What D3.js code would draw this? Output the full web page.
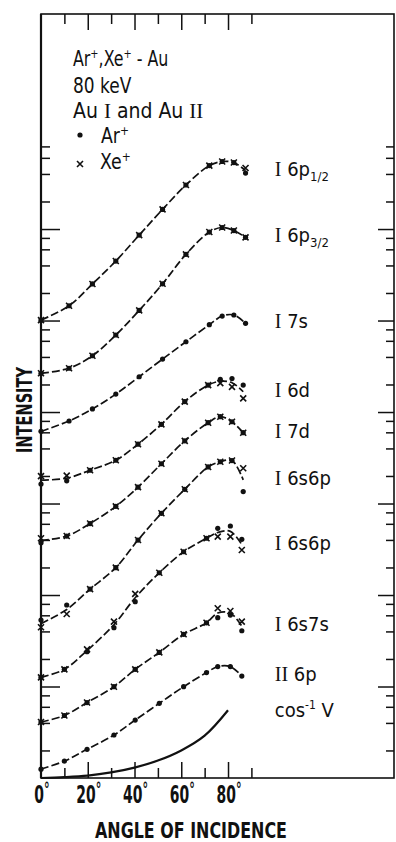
<!DOCTYPE html>
<html>
<head>
<meta charset="utf-8">
<script src="https://cdnjs.cloudflare.com/ajax/libs/d3/7.8.5/d3.min.js"></script>
<style>
    body { margin: 0; background: #fff; }
    text { fill: #111; }
    .narrow { font-family: 'Liberation Sans Narrow', 'DejaVu Sans Condensed', sans-serif; }
    .roman { font-family: 'Liberation Serif', 'DejaVu Serif', serif; }
    .heavy { font-family: 'DejaVu Sans Condensed', 'DejaVu Sans', sans-serif; font-weight: bold; }
</style>
</head>
<body>
<div id="chart"></div>
<script>

// angles of incidence (deg)
const anglesTop = [0, 12, 22, 32, 42, 52, 62, 72, 77.5, 82.5, 87.5];
const anglesMid = [0, 11, 21, 32, 41.5, 51.5, 61.5, 71.5, 76.7, 81.7, 86.5];
const anglesLow = [0, 10, 19.7, 31.2, 40.3, 50.6, 61, 70.8, 75.6, 81, 85.9];

// intensities (arb. units, curves shifted on the log axis)
const ar6p12 = [1.01e5, 1.45e5, 2.51e5, 4.47e5, 8.59e5, 1.64e6, 3.03e6, 4.94e6, 5.47e6, 5.33e6, 4.09e6];
const xe6p12 = [1.01e5, 1.45e5, 2.51e5, 4.47e5, 8.59e5, 1.64e6, 3.03e6, 4.94e6, 5.47e6, 5.33e6, 4.64e6];
const ar6p32 = [2.65e4, 3.01e4, 4.12e4, 6.95e4, 1.29e5, 2.52e5, 5.29e5, 9.27e5, 1.04e6, 9.63e5, 8.11e5];
const xe6p32 = [2.65e4, 3.01e4, 4.12e4, 6.95e4, 1.29e5, 2.52e5, 5.29e5, 9.27e5, 1.04e6, 9.63e5, 8.11e5];
const ar7s = [6.15e3, 7.98e3, 1.08e4, 1.57e4, 2.43e4, 3.79e4, 5.86e4, 9.0e4, 1.12e5, 1.15e5, 9.31e4];
const xe7s = [];
const ar6d = [1.63e3, 1.77e3, 2.31e3, 2.97e3, 4.45e3, 7.34e3, 1.30e4, 1.97e4, 2.27e4, 2.32e4, 1.97e4];
const xe6d = [1.99e3, 2.02e3, 2.31e3, 2.97e3, 4.45e3, 7.34e3, 1.30e4, 1.97e4, 2.07e4, 1.88e4, 1.41e4];
const ar7d = [373, 441, 604, 932, 1510, 2720, 4840, 7640, 8890, 7830, 5940];
const xe7d = [417, 441, 604, 932, 1510, 2720, 4840, 7640, 8890, 7830, 5940];
const ar6s6pA = [53.3, 77.8, 116, 199, 399, 782, 1430, 2510, 2860, 2950, 1350];
const xe6s6pA = [44.4, 62.0, 116, 199, 399, 782, 1430, 2510, 2860, 2950, 2430];
const ar6s6pB = [12.6, 15.4, 24.0, 43.9, 84.5, 175, 297, 417, 536, 568, 406];
const xe6s6pB = [12.6, 15.4, 25.5, 51.1, 103, 175, 297, 417, 434, 434, 310];
const ar6s7s = [4.09, 4.82, 6.68, 9.95, 15.4, 23.6, 37.2, 49.7, 56.5, 60.4, 40.7];
const xe6s7s = [4.09, 4.82, 6.68, 9.95, 15.4, 23.6, 37.2, 49.7, 71.6, 66.8, 51.1];
const arII6p = [1.25, 1.53, 2.06, 2.95, 4.30, 6.55, 9.95, 14.2, 16.5, 16.5, 13.0];
const xeII6p = [];

// cos^-1 reference curve
const cosAngles = [0, 10, 20, 30, 40, 50, 60, 70, 80];
const cosValues = [1, 1.02, 1.06, 1.15, 1.3, 1.55, 2.0, 2.9, 5.5];

// curve labels
const romans = ["I", "I", "I", "I", "I", "I", "I", "I", "II"];
const terms = ["6p", "6p", "7s", "6d", "7d", "6s6p", "6s6p", "6s7s", "6p"];
const subs = ["1/2", "3/2", "", "", "", "", "", "", ""];

// axis ticks
const xTicksMajor = [20, 40, 60, 80];
const xTicksMinor = [10, 30, 50, 70, 90];
const xTickLabels = [0, 20, 40, 60, 80];
const yTicksMajor = [10, 100, 1e3, 1e4, 1e5, 1e6];
const yTicksMinor = [2, 4, 6, 8, 20, 40, 60, 80, 200, 400, 600, 800, 2e3, 4e3, 6e3, 8e3,
    2e4, 4e4, 6e4, 8e4, 2e5, 4e5, 6e5, 8e5, 2e6, 4e6, 6e6, 8e6];


class IntensityVis {

    constructor(parentElement) {
        this.parentElement = parentElement;
        this.displayData = [];
        this.initVis();
    }

    initVis() {
        let vis = this;

        vis.margin = {top: 14, right: 2, bottom: 64, left: 41};
        vis.width = 396 - vis.margin.left - vis.margin.right;
        vis.height = 842 - vis.margin.top - vis.margin.bottom;

        vis.svg = d3.select("#" + vis.parentElement).append("svg")
            .attr("width", 396)
            .attr("height", 842);

        vis.g = vis.svg.append("g")
            .attr("transform", `translate(${vis.margin.left}, ${vis.margin.top})`);

        // frame spans 0..151 deg, log axis 1..2.24e8
        vis.x = d3.scaleLinear().domain([0, 151]).range([0, vis.width]);
        vis.y = d3.scaleLog().domain([1, 2.24e8]).range([vis.height, 0]);

        // ticks, all pointing inwards
        const tickAxis = (axis, tx, ty, values, size) => {
            let a = vis.g.append("g")
                .attr("transform", `translate(${tx}, ${ty})`)
                .call(axis.tickValues(values).tickSize(size).tickFormat(""));
            a.select(".domain").remove();
            a.selectAll("line").style("stroke", "#111").style("stroke-width", 1.5);
        };
        tickAxis(d3.axisLeft(vis.y), 0, 0, yTicksMajor, -19);
        tickAxis(d3.axisLeft(vis.y), 0, 0, yTicksMinor, -9);
        tickAxis(d3.axisRight(vis.y), vis.width, 0, yTicksMajor, -16);
        tickAxis(d3.axisRight(vis.y), vis.width, 0, yTicksMinor, -8);
        tickAxis(d3.axisBottom(vis.x), 0, vis.height, xTicksMajor, -16);
        tickAxis(d3.axisBottom(vis.x), 0, vis.height, xTicksMinor, -10);
        tickAxis(d3.axisTop(vis.x), 0, 0, xTicksMajor, -16);
        tickAxis(d3.axisTop(vis.x), 0, 0, xTicksMinor, -10);

        // frame
        vis.g.append("rect")
            .attr("width", vis.width)
            .attr("height", vis.height)
            .attr("fill", "none")
            .attr("stroke", "#111")
            .attr("stroke-width", 1.6);
        vis.g.append("line")
            .attr("x1", 0).attr("x2", 0)
            .attr("y1", 0).attr("y2", vis.height)
            .attr("stroke", "#111")
            .attr("stroke-width", 2.2);

        // x tick labels
        let xl = vis.g.selectAll(".xlab")
            .data(xTickLabels)
            .enter().append("text")
            .attr("class", "xlab heavy")
            .attr("transform", d => `translate(${vis.x(d) + 1}, ${vis.height + 25}) scale(0.62, 1)`)
            .attr("text-anchor", "middle")
            .style("font-size", "25px");
        xl.append("tspan").text(d => d);
        xl.append("tspan").attr("dy", -7).style("font-size", "20px").text("°");

        vis.g.append("text")
            .attr("class", "heavy")
            .attr("x", 150)
            .attr("y", vis.height + 60)
            .attr("text-anchor", "middle")
            .attr("textLength", 192)
            .attr("lengthAdjust", "spacingAndGlyphs")
            .style("font-size", "22px")
            .text("ANGLE OF INCIDENCE");

        vis.svg.append("text")
            .attr("class", "heavy")
            .attr("transform", "translate(32, 410) rotate(-90)")
            .attr("text-anchor", "middle")
            .attr("textLength", 86)
            .attr("lengthAdjust", "spacingAndGlyphs")
            .style("font-size", "22px")
            .text("INTENSITY");

        vis.addLegend();

        vis.line = d3.line()
            .x(d => vis.x(d.angle))
            .y(d => vis.y(d.value))
            .curve(d3.curveCatmullRom.alpha(0.5));

        vis.wrangleData();
    }

    addLegend() {
        let vis = this;
        let leg = vis.svg.append("g").attr("class", "narrow").style("font-size", "21px");

        // superscript "+" after a word
        const sup = (t, s) => {
            t.append("tspan").attr("dy", -8).style("font-size", "13px").text(s);
        };

        let t1 = leg.append("text").attr("transform", "translate(73, 66) scale(0.84, 1)");
        t1.append("tspan").text("Ar");
        sup(t1, "+");
        t1.append("tspan").attr("dy", 8).text(",Xe");
        sup(t1, "+");
        t1.append("tspan").attr("dy", 8).text(" - Au");

        leg.append("text").attr("transform", "translate(73, 93) scale(0.9, 1)")
            .text("80 keV");

        let t3 = leg.append("text").attr("transform", "translate(73, 118)");
        t3.append("tspan").text("Au ");
        t3.append("tspan").attr("class", "roman").text("I");
        t3.append("tspan").text(" and  Au ");
        t3.append("tspan").attr("class", "roman").text("II");

        leg.append("circle").attr("cx", 80).attr("cy", 135).attr("r", 2.6).attr("fill", "#111");
        let t4 = leg.append("text").attr("transform", "translate(101, 143) scale(0.92, 1)");
        t4.append("tspan").text("Ar");
        sup(t4, "+");

        leg.append("path")
            .attr("d", "M-3,-3L3,3M-3,3L3,-3")
            .attr("transform", "translate(80, 164)")
            .attr("stroke", "#111").attr("stroke-width", 1.6);
        let t5 = leg.append("text").attr("transform", "translate(100, 169) scale(0.92, 1)");
        t5.append("tspan").text("Xe");
        sup(t5, "+");
    }

    wrangleData() {
        let vis = this;

        let groups = [
            [anglesTop, ar6p12, xe6p12], [anglesTop, ar6p32, xe6p32], [anglesTop, ar7s, xe7s],
            [anglesMid, ar6d, xe6d], [anglesMid, ar7d, xe7d], [anglesMid, ar6s6pA, xe6s6pA],
            [anglesLow, ar6s6pB, xe6s6pB], [anglesLow, ar6s7s, xe6s7s], [anglesLow, arII6p, xeII6p]
        ];

        vis.displayData = groups.map((grp, i) => {
            let [angles, ar, xe] = grp;
            let pts = angles.map((a, j) => {
                let vals = [ar[j], xe[j]].filter(v => v != null);
                return {
                    angle: a,
                    ar: ar[j],
                    xe: xe[j],
                    // line runs between the two ion data where they split
                    value: Math.sqrt(d3.max(vals) * d3.min(vals))
                };
            });
            return {roman: romans[i], term: terms[i], sub: subs[i], points: pts};
        });

        vis.cosData = cosAngles.map((a, j) => ({angle: a, value: cosValues[j]}));

        vis.updateVis();
    }

    updateVis() {
        let vis = this;

        let curves = vis.g.selectAll(".curve")
            .data(vis.displayData)
            .enter().append("g")
            .attr("class", "curve");

        curves.append("path")
            .attr("d", d => vis.line(d.points))
            .attr("fill", "none")
            .attr("stroke", "#111")
            .attr("stroke-width", 1.7)
            .attr("stroke-dasharray", "8,3");

        curves.selectAll(".dot")
            .data(d => d.points.filter(p => p.ar != null))
            .enter().append("circle")
            .attr("class", "dot")
            .attr("cx", p => vis.x(p.angle))
            .attr("cy", p => vis.y(p.ar))
            .attr("r", 2.6)
            .attr("fill", "#111");

        curves.selectAll(".cross")
            .data(d => d.points.filter(p => p.xe != null))
            .enter().append("path")
            .attr("class", "cross")
            .attr("d", "M-3,-3L3,3M-3,3L3,-3")
            .attr("transform", p => `translate(${vis.x(p.angle)}, ${vis.y(p.xe)})`)
            .attr("stroke", "#111")
            .attr("stroke-width", 1.6);

        // level labels to the right of each curve end
        let labels = curves.append("text")
            .attr("class", "narrow")
            .attr("x", vis.x(100))
            .attr("y", d => vis.y(d.points[d.points.length - 1].value) + 5)
            .style("font-size", "20px");
        labels.append("tspan").attr("class", "roman").text(d => d.roman);
        labels.append("tspan").text(d => "  " + d.term);
        labels.append("tspan")
            .attr("dy", 5)
            .style("font-size", "13px")
            .text(d => d.sub);

        // cos^-1 curve
        vis.g.append("path")
            .attr("d", vis.line(vis.cosData))
            .attr("fill", "none")
            .attr("stroke", "#111")
            .attr("stroke-width", 2.2);

        let cl = vis.g.append("text")
            .attr("class", "narrow")
            .attr("x", vis.x(100))
            .attr("y", vis.y(cosValues[cosValues.length - 1]) + 7)
            .style("font-size", "20px");
        cl.append("tspan").text("cos");
        cl.append("tspan").attr("dy", -8).style("font-size", "12px").text("-1");
        cl.append("tspan").attr("dy", 8).text(" V");
    }
}

new IntensityVis("chart");

</script>
</body>
</html>
